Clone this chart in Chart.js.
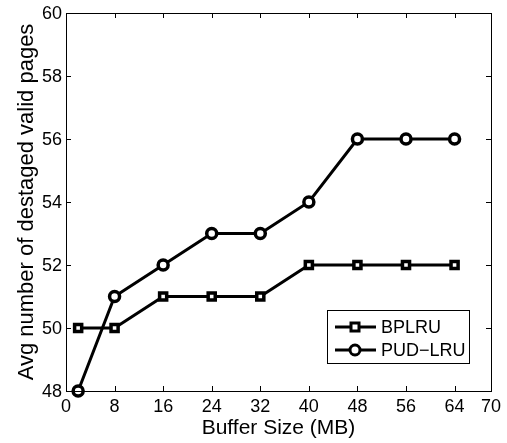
<!DOCTYPE html>
<html>
<head>
<meta charset="utf-8">
<script src="https://cdn.jsdelivr.net/npm/chart.js@4/dist/chart.umd.min.js"></script>
<style>
  body { margin: 0; background: #fff; }
  #wrap { width: 507px; height: 443px; }
</style>
</head>
<body>
<div id="wrap"><canvas id="myChart" width="507" height="443"></canvas></div>
<script>
// buffer sizes (MB)
var bufferSize = [2, 8, 16, 24, 32, 40, 48, 56, 64];
var bplru = [50, 50, 51, 51, 51, 52, 52, 52, 52];
var pudlru = [48, 51, 52, 53, 53, 54, 56, 56, 56];
var xTicks = [0, 8, 16, 24, 32, 40, 48, 56, 64, 70];
var yTicks = [48, 50, 52, 54, 56, 58, 60];

var FONT = '"Liberation Sans", Arial, Helvetica, sans-serif';

function pts(vals) {
  var out = [];
  for (var i = 0; i < bufferSize.length; i++) {
    out.push({ x: bufferSize[i], y: vals[i] });
  }
  return out;
}

// draw frame, inward ticks, labels and legend like matlab
var axesPlugin = {
  id: 'axesPlugin',
  afterDatasetsDraw: function(chart) {
    var ctx = chart.ctx;
    var a = chart.chartArea;
    var xs = chart.scales.x, ys = chart.scales.y;
    var tl = 5;
    ctx.save();
    ctx.strokeStyle = '#000';
    ctx.lineWidth = 1;
    ctx.strokeRect(Math.round(a.left) + 0.5, Math.round(a.top) + 0.5,
                   Math.round(a.right - a.left), Math.round(a.bottom - a.top));
    ctx.beginPath();
    xTicks.forEach(function(v) {
      var px = Math.round(xs.getPixelForValue(v)) + 0.5;
      ctx.moveTo(px, a.bottom); ctx.lineTo(px, a.bottom - tl);
      ctx.moveTo(px, a.top); ctx.lineTo(px, a.top + tl);
    });
    yTicks.forEach(function(v) {
      var py = Math.round(ys.getPixelForValue(v)) + 0.5;
      ctx.moveTo(a.left, py); ctx.lineTo(a.left + tl, py);
      ctx.moveTo(a.right, py); ctx.lineTo(a.right - tl, py);
    });
    ctx.stroke();

    ctx.fillStyle = '#000';
    ctx.font = '18px ' + FONT;
    ctx.textAlign = 'center';
    ctx.textBaseline = 'alphabetic';
    xTicks.forEach(function(v) {
      ctx.fillText(String(v), xs.getPixelForValue(v), a.bottom + 21);
    });
    ctx.textAlign = 'right';
    ctx.textBaseline = 'middle';
    yTicks.forEach(function(v) {
      ctx.fillText(String(v), a.left - 4, ys.getPixelForValue(v) + 1);
    });

    ctx.textAlign = 'center';
    ctx.textBaseline = 'alphabetic';
    ctx.font = '21px ' + FONT;
    ctx.fillText('Buffer Size (MB)', (a.left + a.right) / 2, 434);
    ctx.save();
    ctx.font = '22px ' + FONT;
    ctx.translate(33, (a.top + a.bottom) / 2);
    ctx.rotate(-Math.PI / 2);
    ctx.fillText('Avg number of destaged valid pages', 0, 0);
    ctx.restore();

    // legend box
    var lx = 327, ly = 310, lw = 142, lh = 53;
    ctx.fillStyle = '#fff';
    ctx.fillRect(lx, ly, lw, lh);
    ctx.strokeRect(lx + 0.5, ly + 0.5, lw, lh);
    var names = ['BPLRU', 'PUD\u2212LRU'];
    ctx.font = '18px ' + FONT;
    ctx.textAlign = 'left';
    ctx.textBaseline = 'middle';
    for (var i = 0; i < 2; i++) {
      var cy = ly + 17 + i * 23;
      ctx.lineWidth = 3;
      ctx.beginPath();
      ctx.moveTo(lx + 8, cy); ctx.lineTo(lx + 49, cy);
      ctx.stroke();
      ctx.fillStyle = '#fff';
      ctx.lineWidth = 3;
      if (i == 0) {
        ctx.fillRect(lx + 24, cy - 4, 8, 8);
        ctx.strokeRect(lx + 24, cy - 4, 8, 8);
      } else {
        ctx.beginPath();
        ctx.arc(lx + 28, cy, 5, 0, Math.PI * 2);
        ctx.fill(); ctx.stroke();
      }
      ctx.fillStyle = '#000';
      ctx.fillText(names[i], lx + 54, cy + 1);
    }
    ctx.restore();
  }
};

var ctx = document.getElementById('myChart').getContext('2d');
var myChart = new Chart(ctx, {
  type: 'line',
  data: {
    datasets: [{
      label: 'BPLRU',
      data: pts(bplru),
      borderColor: '#000',
      borderWidth: 3,
      pointStyle: 'rect',
      pointRadius: 5,
      pointBorderWidth: 3.5,
      pointBackgroundColor: '#fff',
      pointBorderColor: '#000',
      tension: 0
    }, {
      label: 'PUD-LRU',
      data: pts(pudlru),
      borderColor: '#000',
      borderWidth: 3,
      pointStyle: 'circle',
      pointRadius: 5,
      pointBorderWidth: 3.5,
      pointBackgroundColor: '#fff',
      pointBorderColor: '#000',
      tension: 0
    }]
  },
  options: {
    responsive: false,
    animation: false,
    clip: false,
    layout: { padding: { left: 66, top: 13, right: 16, bottom: 52 } },
    plugins: { legend: { display: false }, tooltip: { enabled: false } },
    scales: {
      x: { type: 'linear', min: 0, max: 70, display: false },
      y: { type: 'linear', min: 48, max: 60, display: false }
    }
  },
  plugins: [axesPlugin]
});
</script>
</body>
</html>
